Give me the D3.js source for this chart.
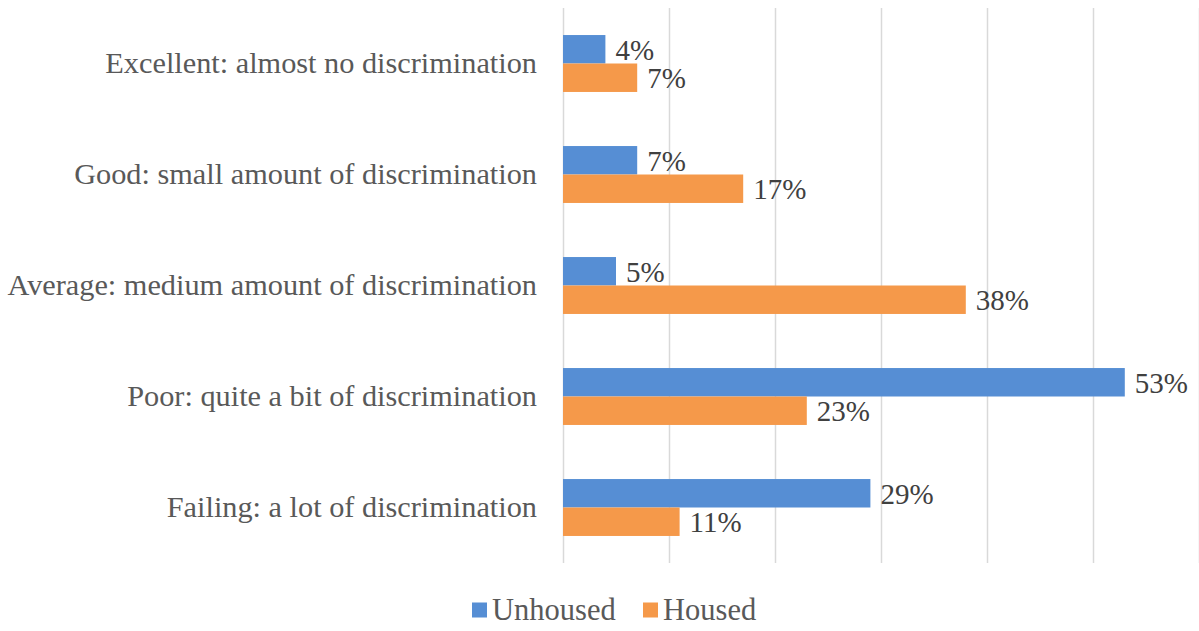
<!DOCTYPE html>
<html>
<head>
<meta charset="utf-8">
<script src="https://cdn.jsdelivr.net/npm/d3@7"></script>
<style>
  html, body { margin: 0; padding: 0; background: #ffffff; }
  svg { display: block; }
</style>
</head>
<body>
<svg id="chart" width="1199" height="631"></svg>
<script>
// Survey ratings of discrimination, by housing status
const categories = [
  "Excellent: almost no discrimination",
  "Good: small amount of discrimination",
  "Average: medium amount of discrimination",
  "Poor: quite a bit of discrimination",
  "Failing: a lot of discrimination"
];
const seriesNames = ["Unhoused", "Housed"];
const unhoused = [4, 7, 5, 53, 29];
const housed = [7, 17, 38, 23, 11];
const xTicks = [0, 10, 20, 30, 40, 50, 60];

const colors = { Unhoused: "#568ED4", Housed: "#F5994A" };
const fontFamily = "'Liberation Serif', 'Times New Roman', serif";

const svg = d3.select("#chart");
const W = 1199, H = 631;
const margin = { left: 563, right: 0, top: 8, bottom: 68 };

const x = d3.scaleLinear().domain([0, 60]).range([margin.left, W - margin.right]);
const y = d3.scaleBand().domain(categories).range([margin.top, H - margin.bottom]).paddingInner(0).paddingOuter(0);
const inner = d3.scaleBand().domain(seriesNames).range([0, y.bandwidth()]).paddingOuter(0.95).paddingInner(0);

// vertical gridlines
svg.append("g").selectAll("line")
  .data(xTicks)
  .join("line")
  .attr("x1", d => x(d) + 0.5)
  .attr("x2", d => x(d) + 0.5)
  .attr("y1", margin.top)
  .attr("y2", H - margin.bottom)
  .attr("stroke", "#d9d9d9")
  .attr("stroke-width", 1.5);

const rows = categories.map((c, i) => ({ cat: c, values: [
  { key: "Unhoused", value: unhoused[i] },
  { key: "Housed", value: housed[i] }
]}));

const group = svg.append("g").selectAll("g")
  .data(rows)
  .join("g")
  .attr("transform", d => `translate(0,${y(d.cat)})`);

group.selectAll("rect")
  .data(d => d.values)
  .join("rect")
  .attr("x", x(0))
  .attr("y", d => inner(d.key))
  .attr("width", d => x(d.value) - x(0))
  .attr("height", inner.bandwidth())
  .attr("fill", d => colors[d.key]);

group.selectAll("text.val")
  .data(d => d.values)
  .join("text")
  .attr("class", "val")
  .attr("x", d => x(d.value) + 10)
  .attr("y", d => inner(d.key) + inner.bandwidth() / 2)
  .attr("dy", "0.36em")
  .attr("font-family", fontFamily)
  .attr("font-size", 29)
  .attr("fill", "#404040")
  .text(d => d.value + "%");

// category axis labels
svg.append("g").selectAll("text")
  .data(categories)
  .join("text")
  .attr("x", margin.left - 26)
  .attr("y", d => y(d) + y.bandwidth() / 2)
  .attr("dy", "0.33em")
  .attr("text-anchor", "end")
  .attr("font-family", fontFamily)
  .attr("font-size", 30.3)
  .attr("fill", "#595959")
  .text(d => d);

// legend
const legend = svg.append("g").attr("transform", "translate(0,610)");
const legendItems = [
  { key: "Unhoused", x: 472 },
  { key: "Housed", x: 643 }
];
const li = legend.selectAll("g").data(legendItems).join("g")
  .attr("transform", d => `translate(${d.x},0)`);
li.append("rect")
  .attr("x", 0).attr("y", -7.5)
  .attr("width", 15).attr("height", 15)
  .attr("fill", d => colors[d.key]);
li.append("text")
  .attr("x", 20)
  .attr("y", 0)
  .attr("dy", "0.33em")
  .attr("font-family", fontFamily)
  .attr("font-size", 30.5)
  .attr("fill", "#595959")
  .text(d => d.key);
</script>
</body>
</html>
